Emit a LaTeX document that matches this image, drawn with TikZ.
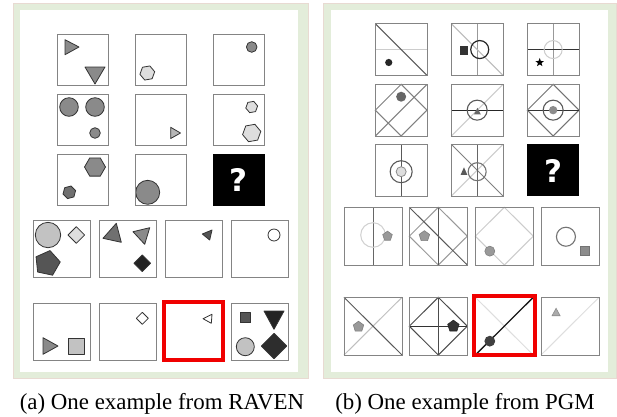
\documentclass[tikz,border=0pt]{standalone}
\usepackage{fontspec}
\setmainfont{Liberation Serif}
\newfontfamily\qfont{DejaVu Sans}
\usetikzlibrary{shapes.geometric}
\definecolor{framegreen}{HTML}{E3EDDA}
\definecolor{framerim}{HTML}{E8DAD2}
\definecolor{cellgray}{HTML}{848484}
\definecolor{sline}{HTML}{333333}
\definecolor{gmid}{HTML}{8A8A8A}
\definecolor{glight}{HTML}{DEDEDE}
\definecolor{gsilver}{HTML}{C2C2C2}
\definecolor{gdark}{HTML}{555555}
\definecolor{gvdark}{HTML}{232323}
\definecolor{gmd}{HTML}{707070}
\definecolor{ansred}{HTML}{F00000}
\tikzset{
  cellbox/.style={draw=cellgray, line width=1pt},
  shp/.style={draw=sline, line width=0.8pt, line join=round},
  poly/.style={regular polygon, draw=sline, line width=0.8pt, inner sep=0pt, outer sep=0pt},
  qbox/.style={fill=black},
  qmark/.style={text=white, font=\qfont\bfseries\fontsize{31}{31}\selectfont, inner sep=0pt},
  redbox/.style={draw=ansred, line width=4pt},
  pl/.style={line width=1pt},
  caption/.style={anchor=base, font=\fontsize{22.9}{27}\selectfont, inner sep=0pt}
}
\begin{document}
\begin{tikzpicture}[x=1pt,y=-1pt]
\useasboundingbox (0,0) rectangle (617,416);
\fill[white] (0,0) rectangle (617,416);
% frames
\draw[draw=framerim, fill=framegreen, line width=0.8pt] (13,3) rectangle (308,378);
\fill[white] (20,10) rectangle (298,372);
\draw[draw=framerim, fill=framegreen, line width=0.8pt] (323,3) rectangle (616.6,378);
\fill[white] (331,10) rectangle (608,372);

% ================= RAVEN =================
% row 1
\draw[shp, fill=gmid] (65,39.7) -- (65,54.7) -- (79,47) -- cycle;
\draw[shp, fill=gmid] (85,67) -- (105,67) -- (95,84) -- cycle;
\node[poly, regular polygon sides=6, fill=glight, minimum size=15pt, rotate=10] (h1) at (147.3,73) {};
\draw[shp, fill=gmid] (251.7,47) circle (5.3pt);
% row 2
\draw[shp, fill=gmid] (69,107) circle (9.3pt);
\draw[shp, fill=gmid] (95,107) circle (9.3pt);
\draw[shp, fill=gmid] (95,133) circle (5.3pt);
\draw[shp, fill=gsilver!80!gmid] (170.7,127.3) -- (170.7,138.5) -- (180.5,133) -- cycle;
\node[poly, regular polygon sides=6, fill=glight, minimum size=12pt, rotate=10] (h2) at (251.7,107) {};
\node[poly, regular polygon sides=6, fill=glight, minimum size=18.5pt, rotate=10] (h3) at (251.7,133) {};
% row 3
\node[poly, regular polygon sides=6, fill=gmid, minimum size=21pt] (h4) at (95,167) {};
\node[poly, regular polygon sides=6, fill=gmd, minimum size=13pt, rotate=15] (h5) at (69.3,192.3) {};
\draw[shp, fill=gmid] (147.7,192.3) circle (12pt);
% grid boxes
\foreach \cx in {57,135,213} \foreach \cy in {34,94,154} \draw[cellbox] (\cx,\cy) rectangle ++(51.3,51.3);
\fill[qbox] (212.7,154) rectangle ++(51.8,51.5);
\node[qmark] (qa) at (238.6,179.7) {?};

% answers row 1
\draw[shp, fill=gsilver] (48,235) circle (12.7pt);
\draw[shp, fill=glight] (76.3,226.7) -- (84.6,235) -- (76.3,243.3) -- (68,235) -- cycle;
\node[poly, regular polygon sides=5, fill=gdark, minimum size=26pt, rotate=-12] (p1) at (47.3,263.3) {};
\draw[shp, fill=gmd] (116.3,223.3) -- (103,238.3) -- (121.3,242.3) -- cycle;
\draw[shp, fill=gmid] (133,231.7) -- (149.7,227.7) -- (144.7,244.3) -- cycle;
\draw[shp, fill=gvdark] (142.3,255) -- (150.6,263.3) -- (142.3,271.6) -- (134,263.3) -- cycle;
\draw[shp, fill=gdark] (202.3,234) -- (212,230) -- (209.7,240) -- cycle;
\draw[shp, fill=white] (274,235) circle (6pt);
% answers row 2
\draw[shp, fill=gmid] (43,337.7) -- (43,354.3) -- (58,346) -- cycle;
\draw[shp, fill=gsilver] (68.7,338.3) rectangle (84.7,354.3);
\draw[shp, fill=white] (142.3,312.3) -- (148.3,318.3) -- (142.3,324.3) -- (136.3,318.3) -- cycle;
\draw[shp, fill=white] (203,318.7) -- (212,314.3) -- (211.3,323.3) -- cycle;
\draw[shp, fill=gdark] (240.3,312.7) rectangle (250.7,322.7);
\draw[shp, fill=gvdark] (264,311) -- (284,311) -- (274,329.3) -- cycle;
\draw[shp, fill=gsilver] (245.3,346.7) circle (9pt);
\draw[shp, fill=gvdark!80!gdark] (274,333.3) -- (286.7,346) -- (274,358.7) -- (261.3,346) -- cycle;
\foreach \cx in {33.7,99.7,165.3,231.3} \foreach \cy in {220.5,303.3} \draw[cellbox] (\cx,\cy) rectangle ++(56.7,56.7);
\draw[redbox] (164,302) rectangle (222.7,359.7);

% ================= PGM =================
% P1
\begin{scope}[shift={(375.3,23.7)}, x=51.7pt, y=-51.7pt]
  \draw[pl, draw=black!20] (0,.5) -- (1,.5);
  \draw[pl, draw=black!65, line width=1.2pt] (0,0) -- (1,1);
  \fill[black!85] (0.26,0.75) circle (3.6pt);
  \draw[cellbox] (0,0) rectangle (1,1);
\end{scope}
% P2
\begin{scope}[shift={(451.3,23.7)}, x=51.7pt, y=-51.7pt]
  \draw[pl, draw=black!40] (.5,0) -- (.5,1);
  \draw[pl, draw=black!27] (0,0) -- (1,1);
  \draw[line width=1.2pt, draw=black!85] (0.55,0.5) circle (9pt);
  \fill[black!80] (0.16,0.43) rectangle (0.32,0.60);
  \draw[cellbox] (0,0) rectangle (1,1);
\end{scope}
% P3
\begin{scope}[shift={(527.3,23.7)}, x=51.7pt, y=-51.7pt]
  \draw[pl, draw=black!40] (.5,0) -- (.5,1);
  \draw[pl, draw=black!80, line width=1.2pt] (0,.5) -- (1,.5);
  \draw[line width=1pt, draw=black!20] (0.5,0.5) circle (9pt);
  \node[star, star points=5, star point ratio=2.4, fill=black, minimum size=9pt, inner sep=0pt] (st) at (0.24,0.75) {};
  \draw[cellbox] (0,0) rectangle (1,1);
\end{scope}
% P4
\begin{scope}[shift={(375.3,84.3)}, x=51.7pt, y=-51.7pt]
  \draw[pl, draw=black!50] (.5,0) -- (1,.5) -- (.5,1) -- (0,.5) -- cycle;
  \draw[pl, draw=black!50] (0,1) -- (1,0);
  \fill[black!60] (0.5,0.24) circle (5pt);
  \draw[cellbox] (0,0) rectangle (1,1);
\end{scope}
% P5
\begin{scope}[shift={(451.3,84.3)}, x=51.7pt, y=-51.7pt]
  \draw[pl, draw=black!20] (0,1) -- (1,0);
  \draw[pl, draw=black!85, line width=1.2pt] (0,.5) -- (1,.5);
  \draw[line width=1.1pt, draw=black!65] (0.5,0.5) circle (10pt);
  \fill[black!60] (0.44,0.58) -- (0.57,0.58) -- (0.505,0.455) -- cycle;
  \draw[cellbox] (0,0) rectangle (1,1);
\end{scope}
% P6
\begin{scope}[shift={(527.3,84.3)}, x=51.7pt, y=-51.7pt]
  \draw[pl, draw=black!55] (.5,0) -- (1,.5) -- (.5,1) -- (0,.5) -- cycle;
  \draw[pl, draw=black!80, line width=1.2pt] (0,.5) -- (1,.5);
  \draw[line width=1.1pt, draw=black!65] (0.5,0.5) circle (10pt);
  \fill[black!45] (0.5,0.5) circle (4.2pt);
  \draw[cellbox] (0,0) rectangle (1,1);
\end{scope}
% P7
\begin{scope}[shift={(375.3,144.3)}, x=51.7pt, y=-51.7pt]
  \draw[pl, draw=black!65] (.5,0) -- (.5,1);
  \draw[line width=1.1pt, draw=black!65] (0.5,0.53) circle (11pt);
  \draw[line width=0.8pt, draw=black!45, fill=black!13] (0.5,0.53) circle (5pt);
  \draw[cellbox] (0,0) rectangle (1,1);
\end{scope}
% P8
\begin{scope}[shift={(451.3,144.3)}, x=51.7pt, y=-51.7pt]
  \draw[pl, draw=black!20] (0,1) -- (1,0);
  \draw[pl, draw=black!50] (0,0) -- (1,1);
  \draw[pl, draw=black!60] (.5,0) -- (.5,1);
  \draw[line width=1.1pt, draw=black!55] (0.5,0.53) circle (9pt);
  \fill[black!65] (0.18,0.59) -- (0.31,0.59) -- (0.245,0.445) -- cycle;
  \draw[cellbox] (0,0) rectangle (1,1);
\end{scope}
% P9
\fill[qbox] (527.3,144.3) rectangle ++(51.7,51.7);
\node[qmark] (qb) at (553.2,171.2) {?};

% answers row 1
\begin{scope}[shift={(344,207.3)}, x=58pt, y=-57.7pt]
  \draw[pl, draw=black!60] (.5,0) -- (.5,1);
  \draw[line width=1pt, draw=black!18] (0.5,0.48) circle (12.3pt);
  \node[poly, regular polygon sides=5, fill=black!40, draw=black!50, line width=0.6pt, minimum size=10pt] (pa) at (0.75,0.5) {};
  \draw[cellbox] (0,0) rectangle (1,1);
\end{scope}
\begin{scope}[shift={(409.3,207.3)}, x=58pt, y=-57.7pt]
  \draw[pl, draw=black!40] (.5,0) -- (1,.5) -- (.5,1) -- (0,.5) -- cycle;
  \draw[pl, draw=black!65] (0,0) -- (1,1);
  \draw[pl, draw=black!65] (.5,0) -- (.5,1);
  \node[poly, regular polygon sides=5, fill=black!40, draw=black!50, line width=0.6pt, minimum size=11pt] (pb) at (0.26,0.5) {};
  \draw[cellbox] (0,0) rectangle (1,1);
\end{scope}
\begin{scope}[shift={(475.3,207.3)}, x=58pt, y=-57.7pt]
  \draw[pl, draw=black!20] (.5,0) -- (1,.5) -- (.5,1) -- (0,.5) -- cycle;
  \draw[line width=0.6pt, draw=black!50, fill=black!40] (0.25,0.76) circle (5pt);
  \draw[cellbox] (0,0) rectangle (1,1);
\end{scope}
\begin{scope}[shift={(541,207.3)}, x=58pt, y=-57.7pt]
  \draw[line width=1.1pt, draw=black!55] (0.43,0.51) circle (9.5pt);
  \draw[line width=0.6pt, draw=black!55, fill=black!45] (0.68,0.68) rectangle (0.83,0.83);
  \draw[cellbox] (0,0) rectangle (1,1);
\end{scope}
% answers row 2
\begin{scope}[shift={(344,297.3)}, x=58pt, y=-57.7pt]
  \draw[pl, draw=black!25] (0,1) -- (1,0);
  \draw[pl, draw=black!65] (0,0) -- (1,1);
  \node[poly, regular polygon sides=5, fill=black!40, draw=black!50, line width=0.6pt, minimum size=11pt] (pc) at (0.25,0.51) {};
  \draw[cellbox] (0,0) rectangle (1,1);
\end{scope}
\begin{scope}[shift={(409.3,297.3)}, x=58pt, y=-57.7pt]
  \draw[pl, draw=black!70] (.5,0) -- (1,.5) -- (.5,1) -- (0,.5) -- cycle;
  \draw[pl, draw=black!80, line width=1.2pt] (0,.5) -- (1,.5);
  \draw[pl, draw=black!70] (.5,0) -- (.5,1);
  \node[poly, regular polygon sides=5, fill=black!80, draw=black!85, line width=0.6pt, minimum size=12pt] (pd) at (0.76,0.5) {};
  \draw[cellbox] (0,0) rectangle (1,1);
\end{scope}
\begin{scope}[shift={(475.3,297.3)}, x=58pt, y=-57.7pt]
  \draw[pl, draw=black!13] (0,0) -- (1,1);
  \draw[pl, draw=black!90, line width=1.3pt] (0,1) -- (1,0);
  \fill[black!75] (0.25,0.76) circle (5.4pt);
  \draw[cellbox] (0,0) rectangle (1,1);
\end{scope}
\begin{scope}[shift={(541,297.3)}, x=58pt, y=-57.7pt]
  \draw[pl, draw=black!13] (0,1) -- (1,0);
  \draw[line width=0.6pt, draw=black!45, fill=black!33] (0.19,0.32) -- (0.33,0.32) -- (0.26,0.19) -- cycle;
  \draw[cellbox] (0,0) rectangle (1,1);
\end{scope}
\draw[redbox] (474.3,296.3) rectangle (534.7,354.7);

% captions
\node[caption] (capa) at (162,409.5) {(a) One example from RAVEN};
\node[caption] (capb) at (465,409.5) {(b) One example from PGM};
\end{tikzpicture}
\end{document}
